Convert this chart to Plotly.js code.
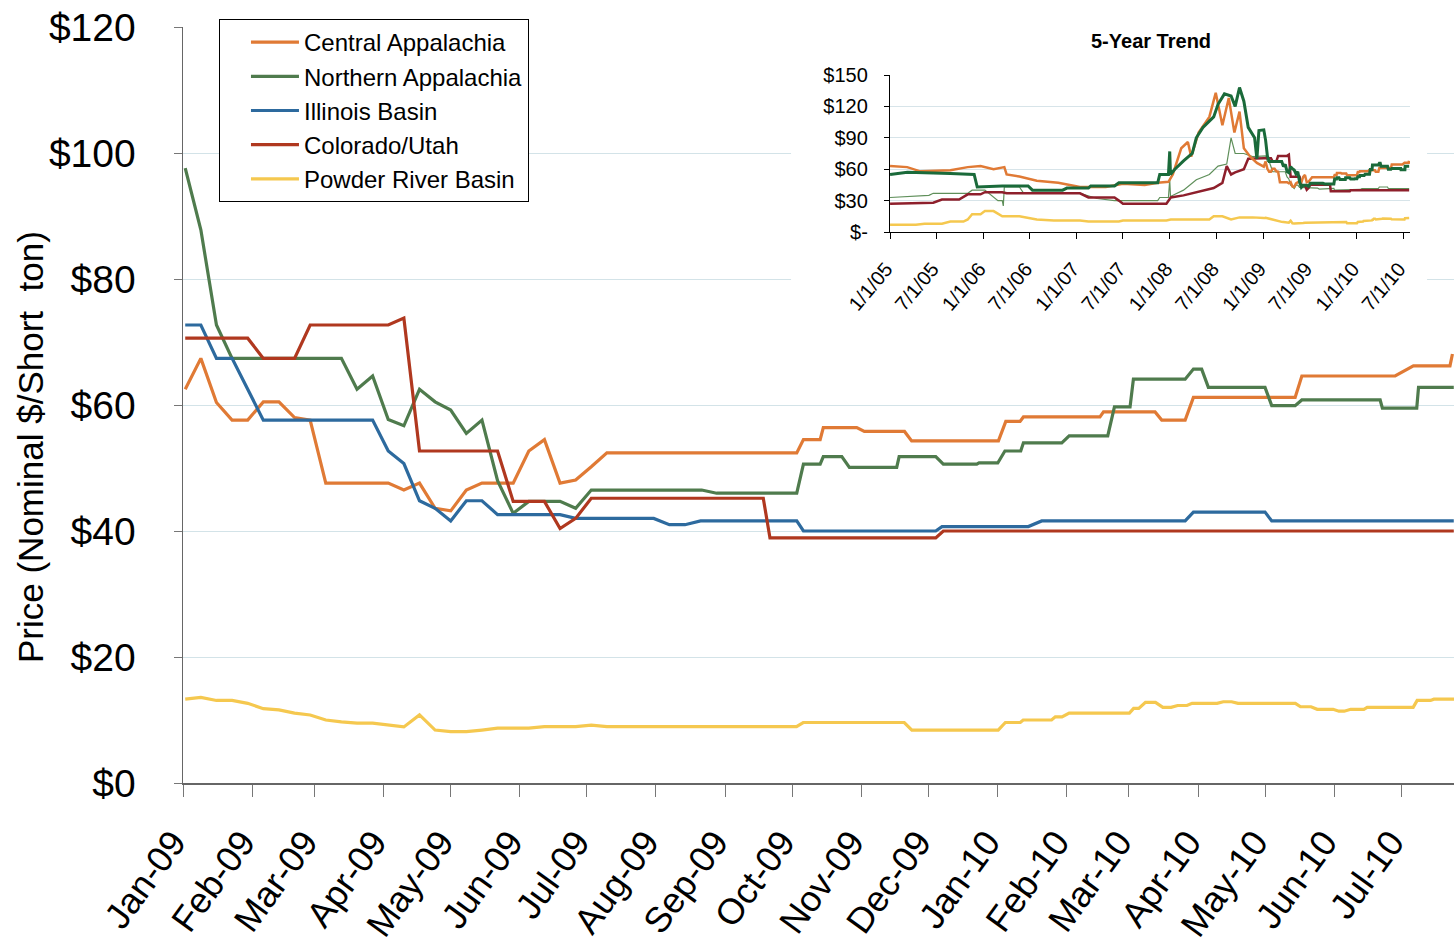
<!DOCTYPE html>
<html>
<head>
<meta charset="utf-8">
<script src="https://cdn.plot.ly/plotly-3.0.1.min.js"></script>
<style>
html,body{margin:0;padding:0;background:#fff;}
#chart{width:1454px;height:946px;}
</style>
</head>
<body>
<div id="chart"></div>
<script>
// ---------------- DATA ----------------
// Main chart: day offsets from 2009-01-01, values in nominal $/short ton
const MAIN_START = [2009, 1, 1];
const INSET_START = [2005, 1, 1];
const INSET_SHIFT = 1461; // days from 2005-01-01 to 2009-01-01

const seriesNames = ["Central Appalachia", "Northern Appalachia", "Illinois Basin", "Colorado/Utah", "Powder River Basin"];

const cappDays = [1,8,15,22,29,36,43,50,57,64,92,99,106,113,120,127,134,148,155,162,169,176,183,190,275.1,278.1,285.6,287,302,305.4,323.4,326.6,365.5,368.8,375.2,376.7,411,412.6,435.7,438.7,449.2,452.9,498.5,501.5,543.3,551.5,567.9,569];
const cappVals = [62.5,67.4,60.4,57.6,57.6,60.5,60.5,58.0,57.6,47.6,47.6,46.5,47.6,43.6,43.2,46.5,47.6,47.6,52.7,54.5,47.6,48.1,50.2,52.4,52.4,54.5,54.5,56.4,56.4,55.8,55.8,54.3,54.3,57.4,57.4,58.1,58.1,58.9,58.9,57.6,57.6,61.2,61.2,64.6,64.6,66.2,66.2,68.1];

const nappDays = [1,8,15,22,71,78,85,92,99,106,113,120,127,134,141,148,155,169,176,183,232.5,239.2,275.1,278.1,285.6,287,295.3,298.7,319.9,321,337.4,340.8,355.8,356.8,365.2,368.4,375.5,376.7,393.9,397.2,414.5,417.5,424.5,426,449.2,452.9,456.6,459.6,485,488,498.5,501.5,536.6,537.6,553,553.8,569.6];
const nappVals = [97.6,87.8,72.7,67.4,67.4,62.5,64.6,57.7,56.7,62.5,60.5,59.2,55.5,57.6,48.0,42.8,44.7,44.7,43.6,46.5,46.5,46.0,46.0,50.6,50.6,51.8,51.8,50.1,50.1,51.8,51.8,50.6,50.6,50.8,50.8,52.7,52.7,54.0,54.0,55.1,55.1,59.7,59.7,64.1,64.1,65.7,65.7,62.8,62.8,59.9,59.9,60.8,60.8,59.5,59.5,62.8,62.8];

const ilbDays = [1,8,15,22,36,85,92,99,106,113,120,127,134,141,169,176,211,218,225,232,275.1,278.1,337.4,340.2,378.9,384.9,449.2,452.9,485,488,569.6];
const ilbVals = [72.7,72.7,67.4,67.4,57.6,57.6,52.7,50.7,44.8,43.6,41.6,44.8,44.8,42.6,42.6,42.0,42.0,41.0,41.0,41.6,41.6,40.0,40.0,40.7,40.7,41.6,41.6,43.0,43.0,41.6,41.6];

const cuDays = [1,29,36,50,57,92,99,106,141,148,162,169,176,183,260.1,263.1,337.4,340.8,569.6];
const cuVals = [70.6,70.6,67.4,67.4,72.7,72.7,73.8,52.7,52.7,44.7,44.7,40.4,42.0,45.2,45.2,38.9,38.9,40.0,40.0];

const prbDays = [1,8,15,22,29,36,43,50,57,64,71,78,85,92,99,106,113,120,127,134,141,155,162,176,183,190,275,278,323.3,326.7,365.4,368.6,375.3,376.6,389.3,391,394,397.2,424.2,426.1,428.4,431.4,435.9,439.2,442.9,445.8,450,452.3,463.5,466.3,470,472.9,498.6,500.9,505.6,508.4,515.5,518.1,520.5,523.4,529.3,530.8,551.4,553.2,559.2,560.7,569.7];
const prbVals = [13.3,13.6,13.1,13.1,12.65,11.8,11.6,11.1,10.8,10.0,9.7,9.5,9.5,9.2,8.9,10.8,8.4,8.15,8.15,8.4,8.7,8.7,8.95,8.95,9.2,8.95,8.95,9.6,9.6,8.4,8.4,9.6,9.6,10.0,10.0,10.5,10.5,11.1,11.1,11.85,11.85,12.8,12.8,12.0,12.0,12.3,12.3,12.65,12.65,12.9,12.9,12.65,12.65,12.1,12.1,11.7,11.7,11.4,11.4,11.7,11.7,12.0,12.0,13.1,13.1,13.3,13.3];

// Inset (5-Year Trend): 2005-2008 part, day offsets from 2005-01-01; 2009-10 part reuses the main series
const insCappDays = [0,67,118,236,304,354,405,447,456,506,574,658,743,844,911,996,1047,1089,1106,1139,1165,1178,1207,1249,1274,1300,1325,1347,1367,1384,1409,1435];
const insCappVals = [63,62,58,59,62,63,60,62,55,53,49,47,43,43,46,45,47,48,55,80,86,72,95,110,133,102,128,95,115,80,72,66];

const insNappDays = [0,68,236,329,341,439,540,557,675,692,776,785,878,895,1047,1055,1089,1094,1097,1114,1148,1182,1198,1224,1249,1266,1283,1308,1334,1350,1367,1384,1401,1426,1435,1443];
const insNappVals = [55,57,56,55,43,44,44,40,40,42,42,44,44,47,47,55,55,77,55,60,68,75,90,100,106,110,122,132,130,120,138,125,100,90,70,97];

const insIlbDays = [0,152,169,304,321,371,422,439,443,447,506,523,743,810,878,1047,1055,1089,1094,1097,1148,1198,1249,1283,1317,1334,1350,1384,1418];
const insIlbVals = [33,35,37,37,40,40,30,30,25,43,43,37,37,32,30,30,33,33,50,34,40,50,55,63,65,90,75,75,72];

const insCuDays = [0,169,203,270,304,354,371,439,456,743,776,878,895,911,1081,1098,1148,1198,1266,1300,1317,1334,1350,1384,1401];
const insCuVals = [27,28,31,31,36,36,38,38,37,37,33,33,30,27,27,33,35,38,42,47,63,55,57,60,70];

const insPrbDays = [0,101,135,203,236,287,304,321,354,371,405,439,506,574,641,743,776,895,911,1081,1098,1249,1266,1300,1334,1367,1418,1435];
const insPrbVals = [7,7,8,8,10,10,12,17,17,20,20,15,15,12,11,11,10,10,11,11,12,12,15,15,12,14,14,13.5];

const insetYTicks = [0,30,60,90,120,150];
const insetYText = ["$-","$30","$60","$90","$120","$150"];

// ---------------- HELPERS ----------------
function toDate(start, d) {
  const ms = Date.UTC(start[0], start[1]-1, start[2]) + d * 86400000;
  const t = new Date(ms);
  const p = n => String(n).padStart(2, '0');
  return t.getUTCFullYear() + '-' + p(t.getUTCMonth()+1) + '-' + p(t.getUTCDate()) + ' ' + p(t.getUTCHours()) + ':' + p(t.getUTCMinutes());
}
const mainX = days => days.map(d => toDate(MAIN_START, d));
const insetX = (pre, main) => pre.concat(main.map(d => d + INSET_SHIFT)).map(d => toDate(INSET_START, d));

const FONT = 'Liberation Sans, Arial, Helvetica, sans-serif';
const mainColors = ['#E07A35', '#4F7B4D', '#2D6A9E', '#B0381F', '#F5C84F'];
const insetColors = {capp:'#E07A35', napp:'#1A6A3A', ilb:'#5F8F5A', cu:'#8E1F2B', prb:'#F5C84F'};

const mainSets = [[cappDays,cappVals],[nappDays,nappVals],[ilbDays,ilbVals],[cuDays,cuVals],[prbDays,prbVals]];

const traces = [];
mainSets.forEach((s, i) => {
  traces.push({
    x: mainX(s[0]), y: s[1], name: seriesNames[i], type: 'scatter', mode: 'lines',
    line: {color: mainColors[i], width: 3.2}, xaxis: 'x', yaxis: 'y', hoverinfo: 'skip'
  });
});

// cover subplot (white background behind the inset block)
traces.push({x:[0], y:[0], xaxis:'x2', yaxis:'y2', mode:'markers', marker:{opacity:0}, showlegend:false, hoverinfo:'skip'});

const insetSets = [
  [insPrbDays, prbDays, insPrbVals, prbVals, insetColors.prb, 2.5],
  [insIlbDays, ilbDays, insIlbVals, ilbVals, insetColors.ilb, 1.2],
  [insCuDays, cuDays, insCuVals, cuVals, insetColors.cu, 2.5],
  [insCappDays, cappDays, insCappVals, cappVals, insetColors.capp, 2.5],
  [insNappDays, nappDays, insNappVals, nappVals, insetColors.napp, 3]
];
insetSets.forEach(s => {
  traces.push({
    x: insetX(s[0], s[1]), y: s[2].concat(s[3]), type: 'scatter', mode: 'lines',
    line: {color: s[4], width: s[5]}, xaxis: 'x3', yaxis: 'y3', showlegend: false, hoverinfo: 'skip'
  });
});

const layout = {
  width: 1454, height: 946,
  margin: {l: 183, r: 0, t: 27, b: 163, pad: 0},
  paper_bgcolor: '#ffffff', plot_bgcolor: '#ffffff',
  font: {family: FONT, color: '#000'},
  showlegend: true,
  legend: {
    x: 0.0283, y: (783 - 19) / 756, xanchor: 'left', yanchor: 'top',
    bgcolor: '#ffffff', bordercolor: '#000000', borderwidth: 1,
    font: {family: FONT, size: 24, color: '#000'}, tracegroupgap: 0,
    indentation: 26, itemwidth: 48
  },
  xaxis: {
    type: 'date', domain: [0, 1], anchor: 'y',
    range: [toDate(MAIN_START, 0), toDate(MAIN_START, 569.7)],
    tick0: toDate(MAIN_START, 0), dtick: 'M1', tickformat: '%b-%y',
    tickangle: -54, ticks: 'outside', ticklen: 12, tickcolor: '#777', tickwidth: 1,
    showline: true, linecolor: '#666', linewidth: 1.5, showgrid: false, zeroline: false,
    tickfont: {family: FONT, size: 36, color: '#000'}, ticklabelstandoff: 10, ticklabelshift: -10
  },
  yaxis: {
    domain: [0, 1], anchor: 'x', range: [0, 120], tick0: 0, dtick: 20, tickprefix: '$',
    ticks: 'outside', ticklen: 8, tickcolor: '#777', tickwidth: 1,
    showline: true, linecolor: '#666', linewidth: 1.5,
    showgrid: true, gridcolor: '#d3e3e8', gridwidth: 1, zeroline: false,
    tickfont: {family: FONT, size: 39, color: '#000'}, ticklabelstandoff: 30
  },
  xaxis2: {domain: [0.4784, 0.9788], anchor: 'y2', range: [0, 1], showgrid: false, zeroline: false, showline: false, showticklabels: false, ticks: ''},
  yaxis2: {domain: [0.619, 1], anchor: 'x2', range: [0, 1], showgrid: false, zeroline: false, showline: false, showticklabels: false, ticks: ''},
  xaxis3: {
    type: 'date', domain: [0.5563, 0.9654], anchor: 'y3',
    range: [toDate(INSET_START, 0), toDate(INSET_START, 2034)],
    tick0: toDate(INSET_START, 0), dtick: 'M6', tickformat: '%-m/%-d/%y',
    tickangle: -50, ticks: 'outside', ticklen: 6, tickcolor: '#000', tickwidth: 1,
    showline: true, linecolor: '#000', linewidth: 1.2, showgrid: false, zeroline: false,
    tickfont: {family: FONT, size: 20, color: '#000'}, ticklabelstandoff: 10, ticklabelshift: -4
  },
  yaxis3: {
    domain: [0.7288, 0.9365], anchor: 'x3', range: [0, 150],
    tickmode: 'array', tickvals: insetYTicks, ticktext: insetYText,
    ticks: 'outside', ticklen: 5, tickcolor: '#000', tickwidth: 1,
    showline: true, linecolor: '#000', linewidth: 1.2,
    showgrid: true, gridcolor: '#d7e4e9', gridwidth: 1, zeroline: false,
    tickfont: {family: FONT, size: 20, color: '#000'}, ticklabelstandoff: 12
  },
  annotations: [{
    text: '<b>5-Year Trend</b>', xref: 'paper', yref: 'paper',
    x: (1151 - 183) / 1271, y: (783 - 41) / 756, xanchor: 'center', yanchor: 'middle',
    showarrow: false, font: {family: FONT, size: 20, color: '#000'}
  }, {
    text: 'Price (Nominal $/Short\u00a0 ton)', xref: 'paper', yref: 'paper',
    x: (30 - 183) / 1271, y: (783 - 447) / 756, xanchor: 'center', yanchor: 'middle',
    textangle: -90, showarrow: false, font: {family: FONT, size: 35, color: '#000'}
  }]
};

Plotly.newPlot('chart', traces, layout, {displayModeBar: false, staticPlot: true});
</script>
</body>
</html>
